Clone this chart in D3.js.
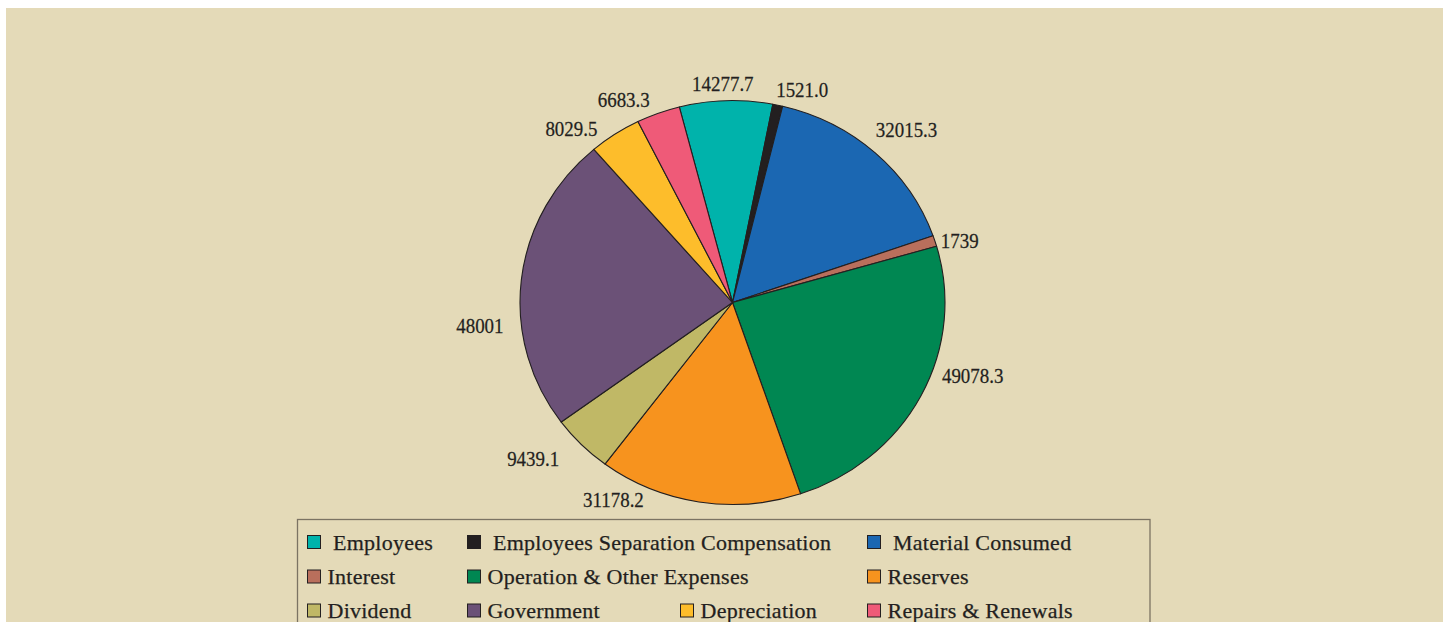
<!DOCTYPE html>
<html>
<head>
<meta charset="utf-8">
<script src="https://cdn.jsdelivr.net/npm/d3@7"></script>
<style>
  html, body { margin: 0; padding: 0; background: #ffffff; }
  svg { display: block; }
  text { font-family: "Liberation Serif", "DejaVu Serif", serif; fill: #231f20; stroke: #231f20; stroke-width: 0.25px; }
</style>
</head>
<body>
<svg id="chart" width="1453" height="622"></svg>
<script>
// Expense categories and their amounts
const categories = [
  "Employees", "Employees Separation Compensation", "Material Consumed",
  "Interest", "Operation & Other Expenses", "Reserves",
  "Dividend", "Government", "Depreciation", "Repairs & Renewals"
];
const values = [14277.7, 1521.0, 32015.3, 1739, 49078.3, 31178.2, 9439.1, 48001, 8029.5, 6683.3];
const valueLabels = ["14277.7", "1521.0", "32015.3", "1739", "49078.3", "31178.2", "9439.1", "48001", "8029.5", "6683.3"];
const colors = ["#00b3ab", "#231f20", "#1b67b2", "#b96f5c", "#008752", "#f7931e",
                "#c0b866", "#6b5177", "#fdbd2b", "#ef5a78"];

const svg = d3.select("#chart");
const W = 1453, H = 622;

// Panel background with a thin white margin at top/left/right
svg.append("rect").attr("x", 6).attr("y", 8).attr("width", 1437).attr("height", H - 8)
  .attr("fill", "#e4dab8");

// Pie geometry (slightly wider than tall)
const cx = 732.5, cy = 302.5, ry = 202, rx = 212.5;
const deg = Math.PI / 180;
const start = -14.5 * deg;

const pie = d3.pie().sort(null).value(d => d.value)
  .startAngle(start).endAngle(start + 2 * Math.PI);
const data = categories.map((c, i) => ({ name: c, value: values[i], label: valueLabels[i], color: colors[i] }));
const arcs = pie(data);
const arc = d3.arc().innerRadius(0).outerRadius(ry);

const g = svg.append("g").attr("transform", `translate(${cx},${cy}) scale(${rx / ry},1)`);
g.selectAll("path").data(arcs).join("path")
  .attr("d", arc)
  .attr("fill", d => d.data.color)
  .attr("stroke", "#231f20")
  .attr("stroke-width", 1.1)
  .attr("stroke-linejoin", "round")
  .attr("vector-effect", "non-scaling-stroke");

// Value labels: placed just outside the rim at the slice mid-angle, then nudged
const labelNudge = [[-2, -5], [18, -4], [8, -14], [3, 3], [21, -26.5],
                    [-80, -14.5], [-27, 5], [-14, 47], [-27, 4], [-24, -2]];
const lblScale = 0.86;
const labels = svg.append("g");
arcs.forEach((d, i) => {
  const a = (d.startAngle + d.endAngle) / 2;
  const s = Math.sin(a), c = Math.cos(a);
  const t = labels.append("text")
    .attr("font-size", 22)
    .attr("text-anchor", "middle")
    .text(d.data.label);
  const w = t.node().getComputedTextLength() * lblScale;
  const h = 16, gap = 4;
  const x = cx + (rx + w / 2 + gap) * s + labelNudge[i][0];
  const y = cy - (ry + h / 2 + gap) * c + labelNudge[i][1];
  t.attr("transform", `translate(${x},${y + 7.5}) scale(${lblScale},1)`);
});

// Legend box
const legend = svg.append("g");
legend.append("rect")
  .attr("x", 297.5).attr("y", 519.5).attr("width", 852.5).attr("height", 140)
  .attr("fill", "none").attr("stroke", "#7b7363").attr("stroke-width", 1.3);

const legendRows = [[0, 1, 2], [3, 4, 5], [6, 7, 8, 9]];
const legendCols = [[307, 467, 867], [307, 467, 867], [307, 467, 680, 867]];
const rowY = [542, 576.5, 610.5];
legendRows.forEach((row, r) => {
  row.forEach((idx, k) => {
    const x = legendCols[r][k];
    const item = legend.append("g");
    item.append("rect")
      .attr("x", x + 0.5).attr("y", rowY[r] - 6.5).attr("width", 13).attr("height", 13)
      .attr("fill", colors[idx]).attr("stroke", "#231f20").attr("stroke-width", 1);
    item.append("text")
      .attr("x", x + (r === 0 ? 26 : 20.5)).attr("y", rowY[r] + 7.5)
      .attr("font-size", 22)
      .attr("letter-spacing", 0.25)
      .text(categories[idx]);
  });
});
</script>
</body>
</html>
